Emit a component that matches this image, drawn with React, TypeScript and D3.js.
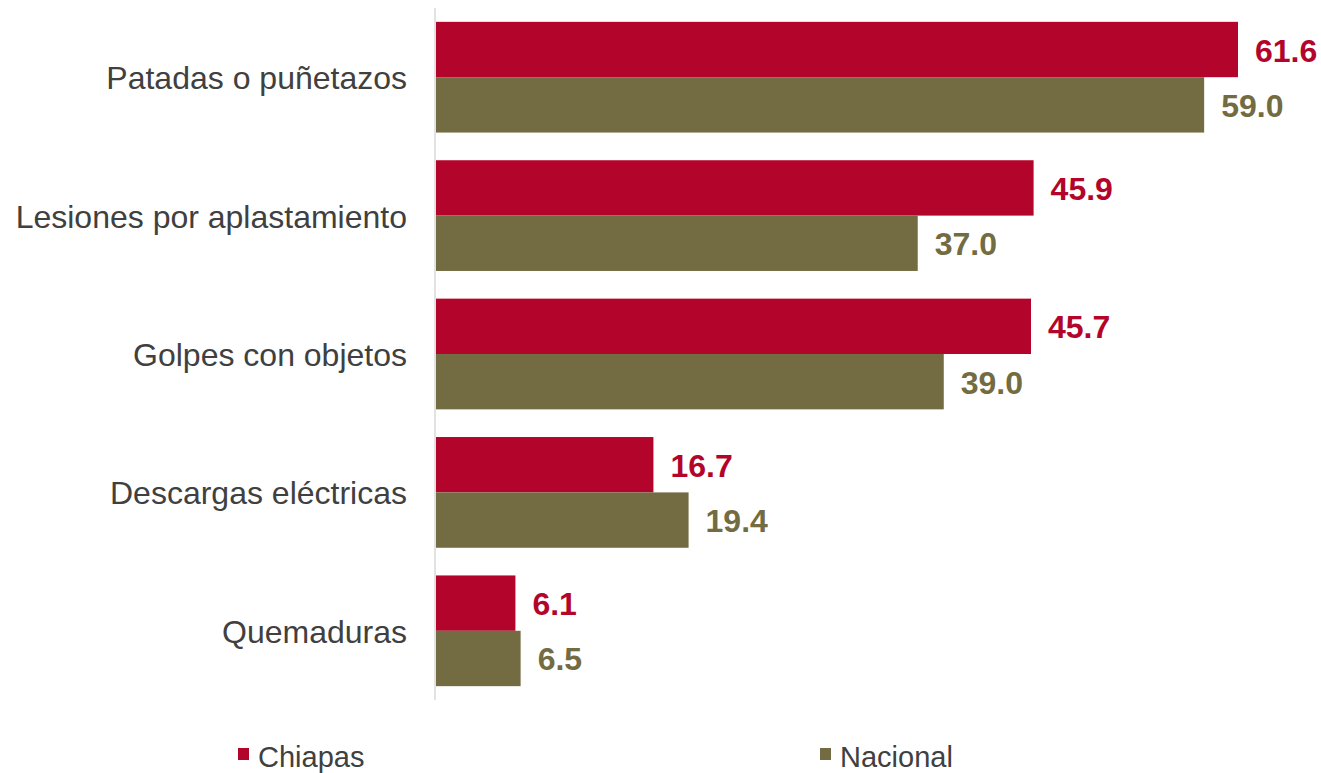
import React from "react";
import * as d3 from "d3";

const categories = [
  "Patadas o puñetazos",
  "Lesiones por aplastamiento",
  "Golpes con objetos",
  "Descargas eléctricas",
  "Quemaduras",
];
const chiapas = [61.6, 45.9, 45.7, 16.7, 6.1];
const nacional = [59.0, 37.0, 39.0, 19.4, 6.5];
const seriesNames = ["Chiapas", "Nacional"];
const colors = ["#B3052B", "#736B42"];

const W = 1321;
const H = 773;
const x0 = 436;
const top = 8;
const bottom = 700;

export default function App() {
  const x = d3.scaleLinear().domain([0, 61.6]).range([x0, 1238]);
  const y = d3
    .scaleBand<string>()
    .domain(categories)
    .range([top, bottom])
    .paddingInner(0.2)
    .paddingOuter(0.1);
  const inner = d3
    .scaleBand<string>()
    .domain(seriesNames)
    .range([0, y.bandwidth()]);
  const series = [chiapas, nacional];
  const font = "Arial, 'Liberation Sans', sans-serif";

  return (
    <svg
      width={W}
      height={H}
      style={{ position: "absolute", left: 0, top: 0 }}
      fontFamily={font}
    >
      <rect width={W} height={H} fill="#fff" />
      {categories.map((c, i) => (
        <g key={c}>
          <text
            x={407}
            y={(y(c) as number) + y.bandwidth() / 2 + 1}
            textAnchor="end"
            dominantBaseline="central"
            fontSize={32}
            fill="#404040"
          >
            {c}
          </text>
          {series.map((s, j) => {
            const yy = (y(c) as number) + (inner(seriesNames[j]) as number);
            return (
              <g key={j}>
                <rect
                  x={x0}
                  y={yy}
                  width={x(s[i]) - x0}
                  height={inner.bandwidth()}
                  fill={colors[j]}
                />
                <text
                  x={x(s[i]) + 17}
                  y={yy + inner.bandwidth() / 2 + 1}
                  dominantBaseline="central"
                  fontSize={32}
                  fontWeight="bold"
                  fill={colors[j]}
                >
                  {s[i].toFixed(1)}
                </text>
              </g>
            );
          })}
        </g>
      ))}
      <line x1={x0 - 1} x2={x0 - 1} y1={top} y2={bottom} stroke="#d9d9d9" strokeWidth={1.5} />
      {seriesNames.map((n, j) => {
        const lx = j === 0 ? 238 : 820;
        return (
          <g key={n}>
            <rect x={lx} y={748} width={11} height={12} fill={colors[j]} />
            <text x={lx + 20} y={757} dominantBaseline="central" fontSize={29} fill="#404040">
              {n}
            </text>
          </g>
        );
      })}
    </svg>
  );
}
